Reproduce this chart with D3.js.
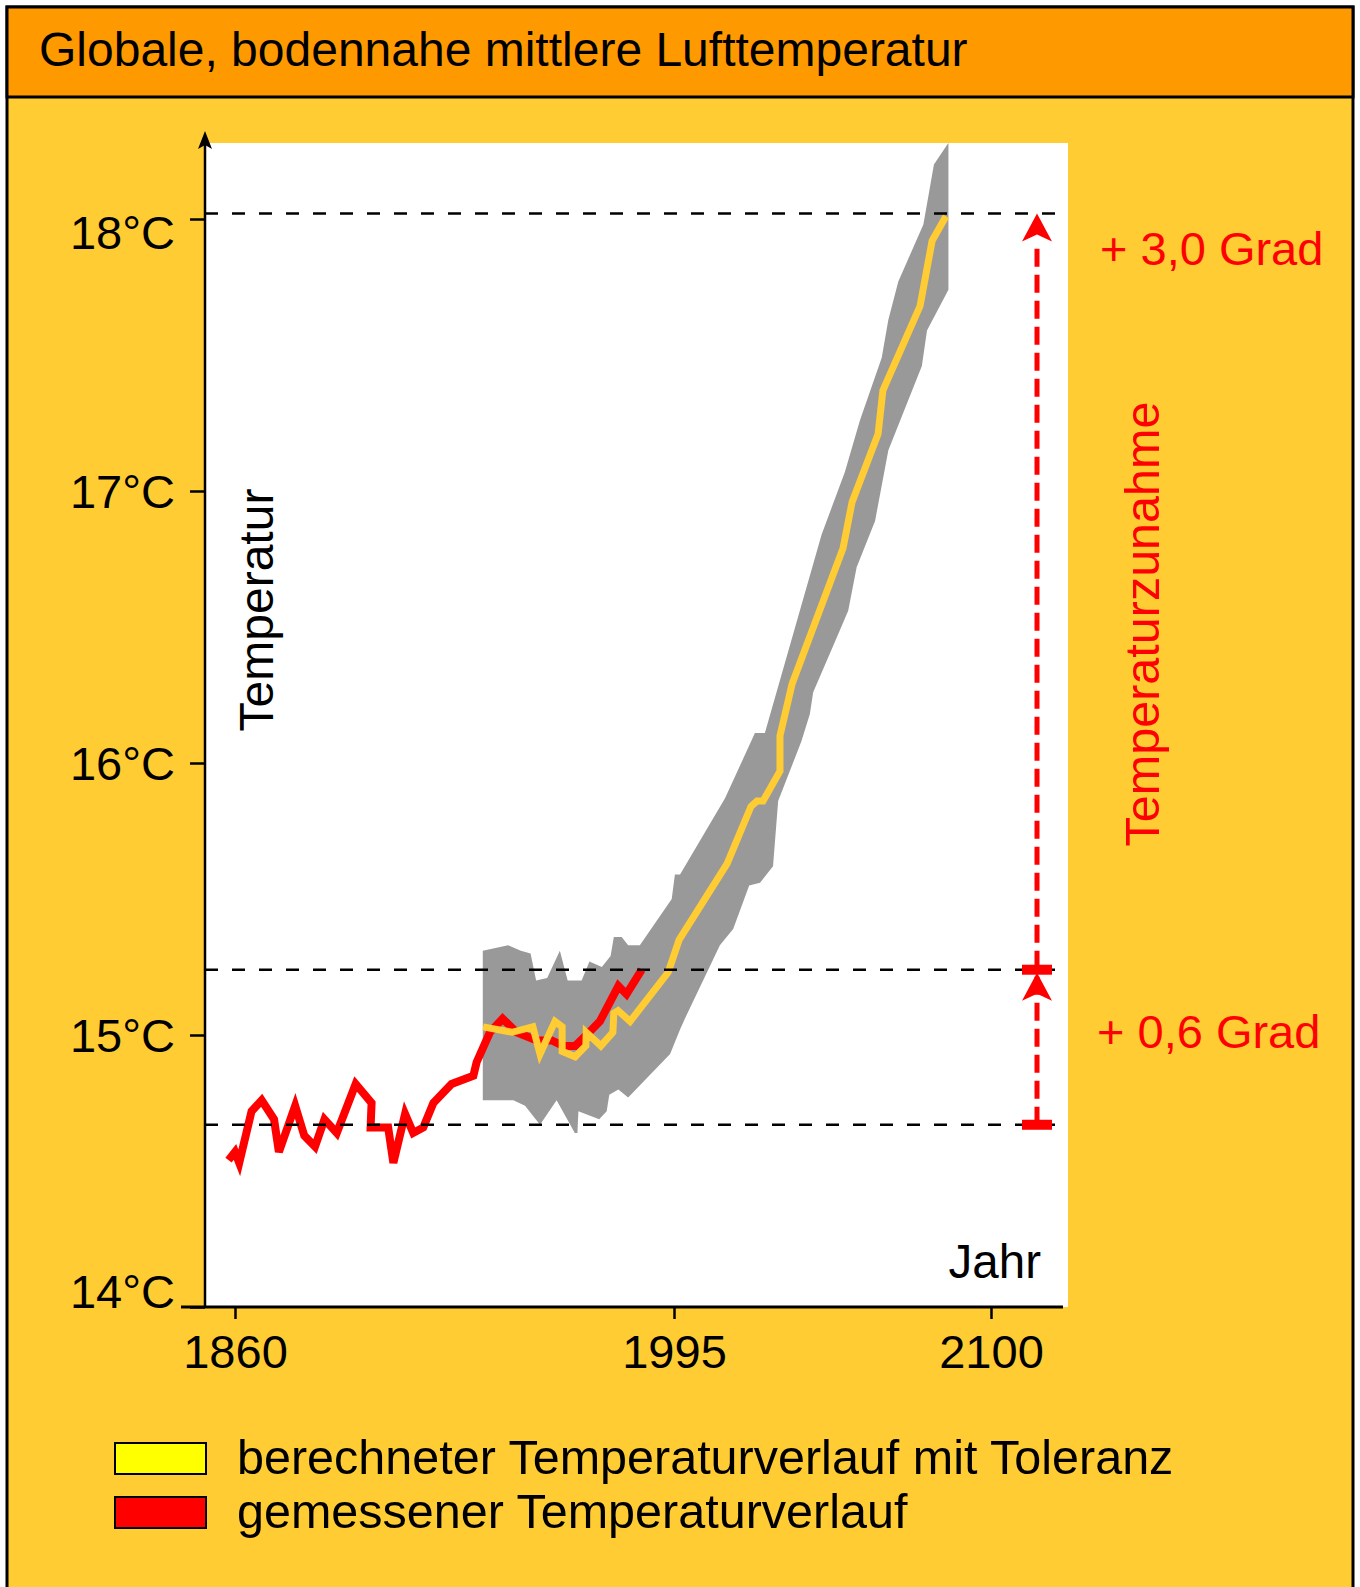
<!DOCTYPE html>
<html><head><meta charset="utf-8">
<script src="https://cdn.jsdelivr.net/npm/d3@7"></script>
<style>
html,body{margin:0;padding:0;background:#fff;}
svg{display:block;font-family:"Liberation Sans",Arial,sans-serif;}
</style></head>
<body>
<script>
// ---- data ----
const title = "Globale, bodennahe mittlere Lufttemperatur";
const xTicks = [1860, 1995, 2100];
const yTicks = [14, 15, 16, 17, 18];
const refLines = [14.67, 15.24, 18.02];

const measured = [
  [1858,14.54],[1860,14.57],[1861.3,14.53],[1865.1,14.72],[1868.2,14.76],[1872,14.69],
  [1873.5,14.57],[1878.5,14.74],[1881.3,14.63],[1884.6,14.59],[1887.5,14.69],[1891.3,14.64],
  [1897.1,14.82],[1902,14.75],[1901.7,14.66],[1907.1,14.66],[1908.7,14.53],[1912.3,14.71],
  [1914.8,14.64],[1917.9,14.66],[1921,14.75],[1926.6,14.82],[1933.3,14.85],[1934.3,14.90],
  [1938.4,15.01],[1942.3,15.06],[1946.6,15.01],[1952.8,14.98],[1957.4,14.98],[1961,14.96],
  [1964.6,14.96],[1968.1,15.00],[1972.2,15.05],[1977.9,15.18],[1980.4,15.15],[1985.1,15.24]
];

const computed = [
  [1936.3,15.03],[1945.2,15.01],[1951.6,15.03],[1953.8,14.93],[1958.4,15.05],[1960.6,15.03],
  [1960.6,14.94],[1964.6,14.92],[1967.9,14.96],[1968,15.01],[1972.5,14.96],[1976.2,15.01],
  [1976.5,15.08],[1977.8,15.09],[1981.5,15.05],[1993.2,15.23],[1996.7,15.35],[2012.6,15.63],
  [2020.5,15.84],[2022.5,15.86],[2024.5,15.86],[2030.1,15.97],[2030.1,16.10],[2034.1,16.29],
  [2051,16.79],[2054,16.96],[2062.6,17.21],[2064.2,17.37],[2076.5,17.68],[2080.5,17.92],[2085.1,18.01]
];

const bandUpper = [
  [1936.2,15.31],[1944.0,15.33],[1947.9,15.31],[1950.9,15.30],[1952.6,15.20],[1956.0,15.21],
  [1959.9,15.31],[1962.3,15.20],[1966.6,15.20],[1969.0,15.27],[1972.8,15.25],[1975.5,15.29],
  [1976.5,15.36],[1978.9,15.36],[1980.9,15.33],[1984.5,15.33],[1994.3,15.50],[1995.3,15.59],
  [1997,15.59],[2011.9,15.87],[2021.8,16.11],[2025.1,16.11],[2043.9,16.84],[2051.6,17.07],
  [2056.6,17.26],[2063.8,17.49],[2066,17.63],[2069.3,17.77],[2077.6,17.98],[2081.1,18.20],[2085.9,18.28]
];
const bandLower = [
  [1936.2,14.76],[1945.6,14.76],[1949.2,14.74],[1953.8,14.67],[1958.9,14.76],[1964.5,14.64],
  [1965.3,14.64],[1965.6,14.72],[1972,14.69],[1974.3,14.72],[1975.1,14.78],[1977.9,14.80],
  [1980.9,14.77],[1993.8,14.93],[1997,15.02],[1998.6,15.06],[2010.2,15.33],[2014.6,15.39],
  [2019.9,15.55],[2023.5,15.56],[2027.8,15.62],[2029.5,15.86],[2037.2,16.08],[2040,16.18],
  [2041.1,16.26],[2047.7,16.43],[2052.7,16.56],[2055.5,16.72],[2061.6,16.89],[2066,17.15],
  [2077.1,17.46],[2078.8,17.59],[2085.9,17.74]
];

const legendItems = [
  {label:"berechneter Temperaturverlauf mit Toleranz", color:"#FFFF00"},
  {label:"gemessener Temperaturverlauf", color:"#FF0000"}
];

// ---- drawing ----
const W = 1360, H = 1587;
const svg = d3.select("body").append("svg").attr("width", W).attr("height", H);

svg.append("rect").attr("x",7).attr("y",7).attr("width",1346).attr("height",1620)
  .attr("fill","#FFCC33").attr("stroke","#000").attr("stroke-width",3);
svg.append("rect").attr("x",7).attr("y",7).attr("width",1346).attr("height",90)
  .attr("fill","#FF9900").attr("stroke","#000").attr("stroke-width",3);
svg.append("text").attr("x",39).attr("y",66).attr("font-size",48).attr("fill","#000").text(title);

const x = d3.scaleLinear().domain([1860,1995,2100]).range([235,674,991]);
const y = d3.scaleLinear().domain([14,18]).range([1307,219]);

const plotL = 205, plotR = 1068, plotT = 143, plotB = 1307;
svg.append("rect").attr("x",plotL).attr("y",plotT).attr("width",plotR-plotL).attr("height",plotB-plotT).attr("fill","#fff");

svg.append("defs").append("clipPath").attr("id","clip")
  .append("rect").attr("x",plotL).attr("y",plotT).attr("width",plotR-plotL).attr("height",plotB-plotT);

const g = svg.append("g").attr("clip-path","url(#clip)");

// band
const bandPts = bandUpper.concat(bandLower.slice().reverse());
g.append("path").attr("d", d3.line().x(d=>x(d[0])).y(d=>y(d[1]))(bandPts) + "Z")
  .attr("fill","#999999");

// reference dashed lines
svg.selectAll(".ref").data(refLines).join("line")
  .attr("x1",plotL).attr("x2",plotR).attr("y1",d=>y(d)).attr("y2",d=>y(d))
  .attr("stroke","#000").attr("stroke-width",2.5).attr("stroke-dasharray","13,14");

const line = d3.line().x(d=>x(d[0])).y(d=>y(d[1]));
g.append("path").attr("d", line(measured)).attr("fill","none")
  .attr("stroke","#FF0000").attr("stroke-width",8).attr("stroke-linejoin","miter");
g.append("path").attr("d", line(computed)).attr("fill","none")
  .attr("stroke","#FFCC33").attr("stroke-width",7).attr("stroke-linejoin","miter");

// axes
const xAxis = d3.axisBottom(x).tickValues(xTicks).tickSize(12).tickPadding(16).tickFormat(d3.format("d"));
const xg = svg.append("g").attr("transform",`translate(0,${plotB})`).call(xAxis);
xg.select(".domain").remove();
xg.selectAll("line").attr("stroke","#000").attr("stroke-width",2.5);
xg.selectAll("text").attr("font-size",47).attr("font-family","Liberation Sans, Arial, sans-serif").attr("fill","#000");
svg.append("line").attr("x1",181).attr("x2",1063).attr("y1",plotB).attr("y2",plotB)
  .attr("stroke","#000").attr("stroke-width",3);

const yLabelShift = {18: 13, 14: -16};
const yAxis = d3.axisLeft(y).tickValues(yTicks).tickSize(15).tickPadding(15).tickFormat(d => d + "°C");
const yg = svg.append("g").attr("transform",`translate(${plotL},0)`).call(yAxis);
yg.select(".domain").remove();
yg.selectAll("line").attr("stroke","#000").attr("stroke-width",2.5);
yg.selectAll("text").attr("font-size",47).attr("font-family","Liberation Sans, Arial, sans-serif").attr("fill","#000")
  .attr("dy", d => (0.36*47 + (yLabelShift[d]||0)) + "px");
svg.append("line").attr("x1",plotL).attr("x2",plotL).attr("y1",140).attr("y2",plotB)
  .attr("stroke","#000").attr("stroke-width",2.5);
svg.append("path").attr("d",`M${plotL},131 L${plotL+7},149 L${plotL},145 L${plotL-7},149 Z`).attr("fill","#000");

// axis titles
svg.append("text").attr("transform","translate(273,610) rotate(-90)").attr("text-anchor","middle")
  .attr("font-size",48).attr("fill","#000").text("Temperatur");
svg.append("text").attr("x",1041).attr("y",1278).attr("text-anchor","end")
  .attr("font-size",47.5).attr("fill","#000").text("Jahr");

// red arrows
const ax = 1037;
const arr = svg.append("g").attr("fill","#FF0000").attr("stroke","#FF0000");
arr.append("line").attr("x1",ax).attr("x2",ax).attr("y1",y(refLines[0])).attr("y2",y(refLines[2])+30)
  .attr("stroke-width",5).attr("stroke-dasharray","18,8").attr("fill","none");
function head(tipY){
  arr.append("path").attr("d",`M${ax},${tipY} L${ax+15},${tipY+28} L${ax},${tipY+21} L${ax-15},${tipY+28} Z`).attr("stroke","none");
}
head(y(refLines[2]));
head(y(refLines[1])+3);
arr.append("rect").attr("x",ax-15).attr("y",y(refLines[1])-5).attr("width",30).attr("height",10).attr("stroke","none");
arr.append("rect").attr("x",ax-15).attr("y",y(refLines[0])-5).attr("width",30).attr("height",10).attr("stroke","none");

svg.append("text").attr("x",1100).attr("y",265).attr("font-size",47).attr("fill","#FF0000").text("+ 3,0 Grad");
svg.append("text").attr("x",1097).attr("y",1048).attr("font-size",47).attr("fill","#FF0000").text("+ 0,6 Grad");
svg.append("text").attr("transform","translate(1159,624) rotate(-90)").attr("text-anchor","middle")
  .attr("font-size",48.5).attr("fill","#FF0000").text("Temperaturzunahme");

// legend
const lg = svg.append("g");
legendItems.forEach((it,i) => {
  lg.append("rect").attr("x",115).attr("y",1443 + i*54).attr("width",91).attr("height",31)
    .attr("fill",it.color).attr("stroke","#000").attr("stroke-width",2);
  lg.append("text").attr("x",237).attr("y",1474 + i*54).attr("font-size",48.5).attr("fill","#000").text(it.label);
});
</script>
</body></html>
